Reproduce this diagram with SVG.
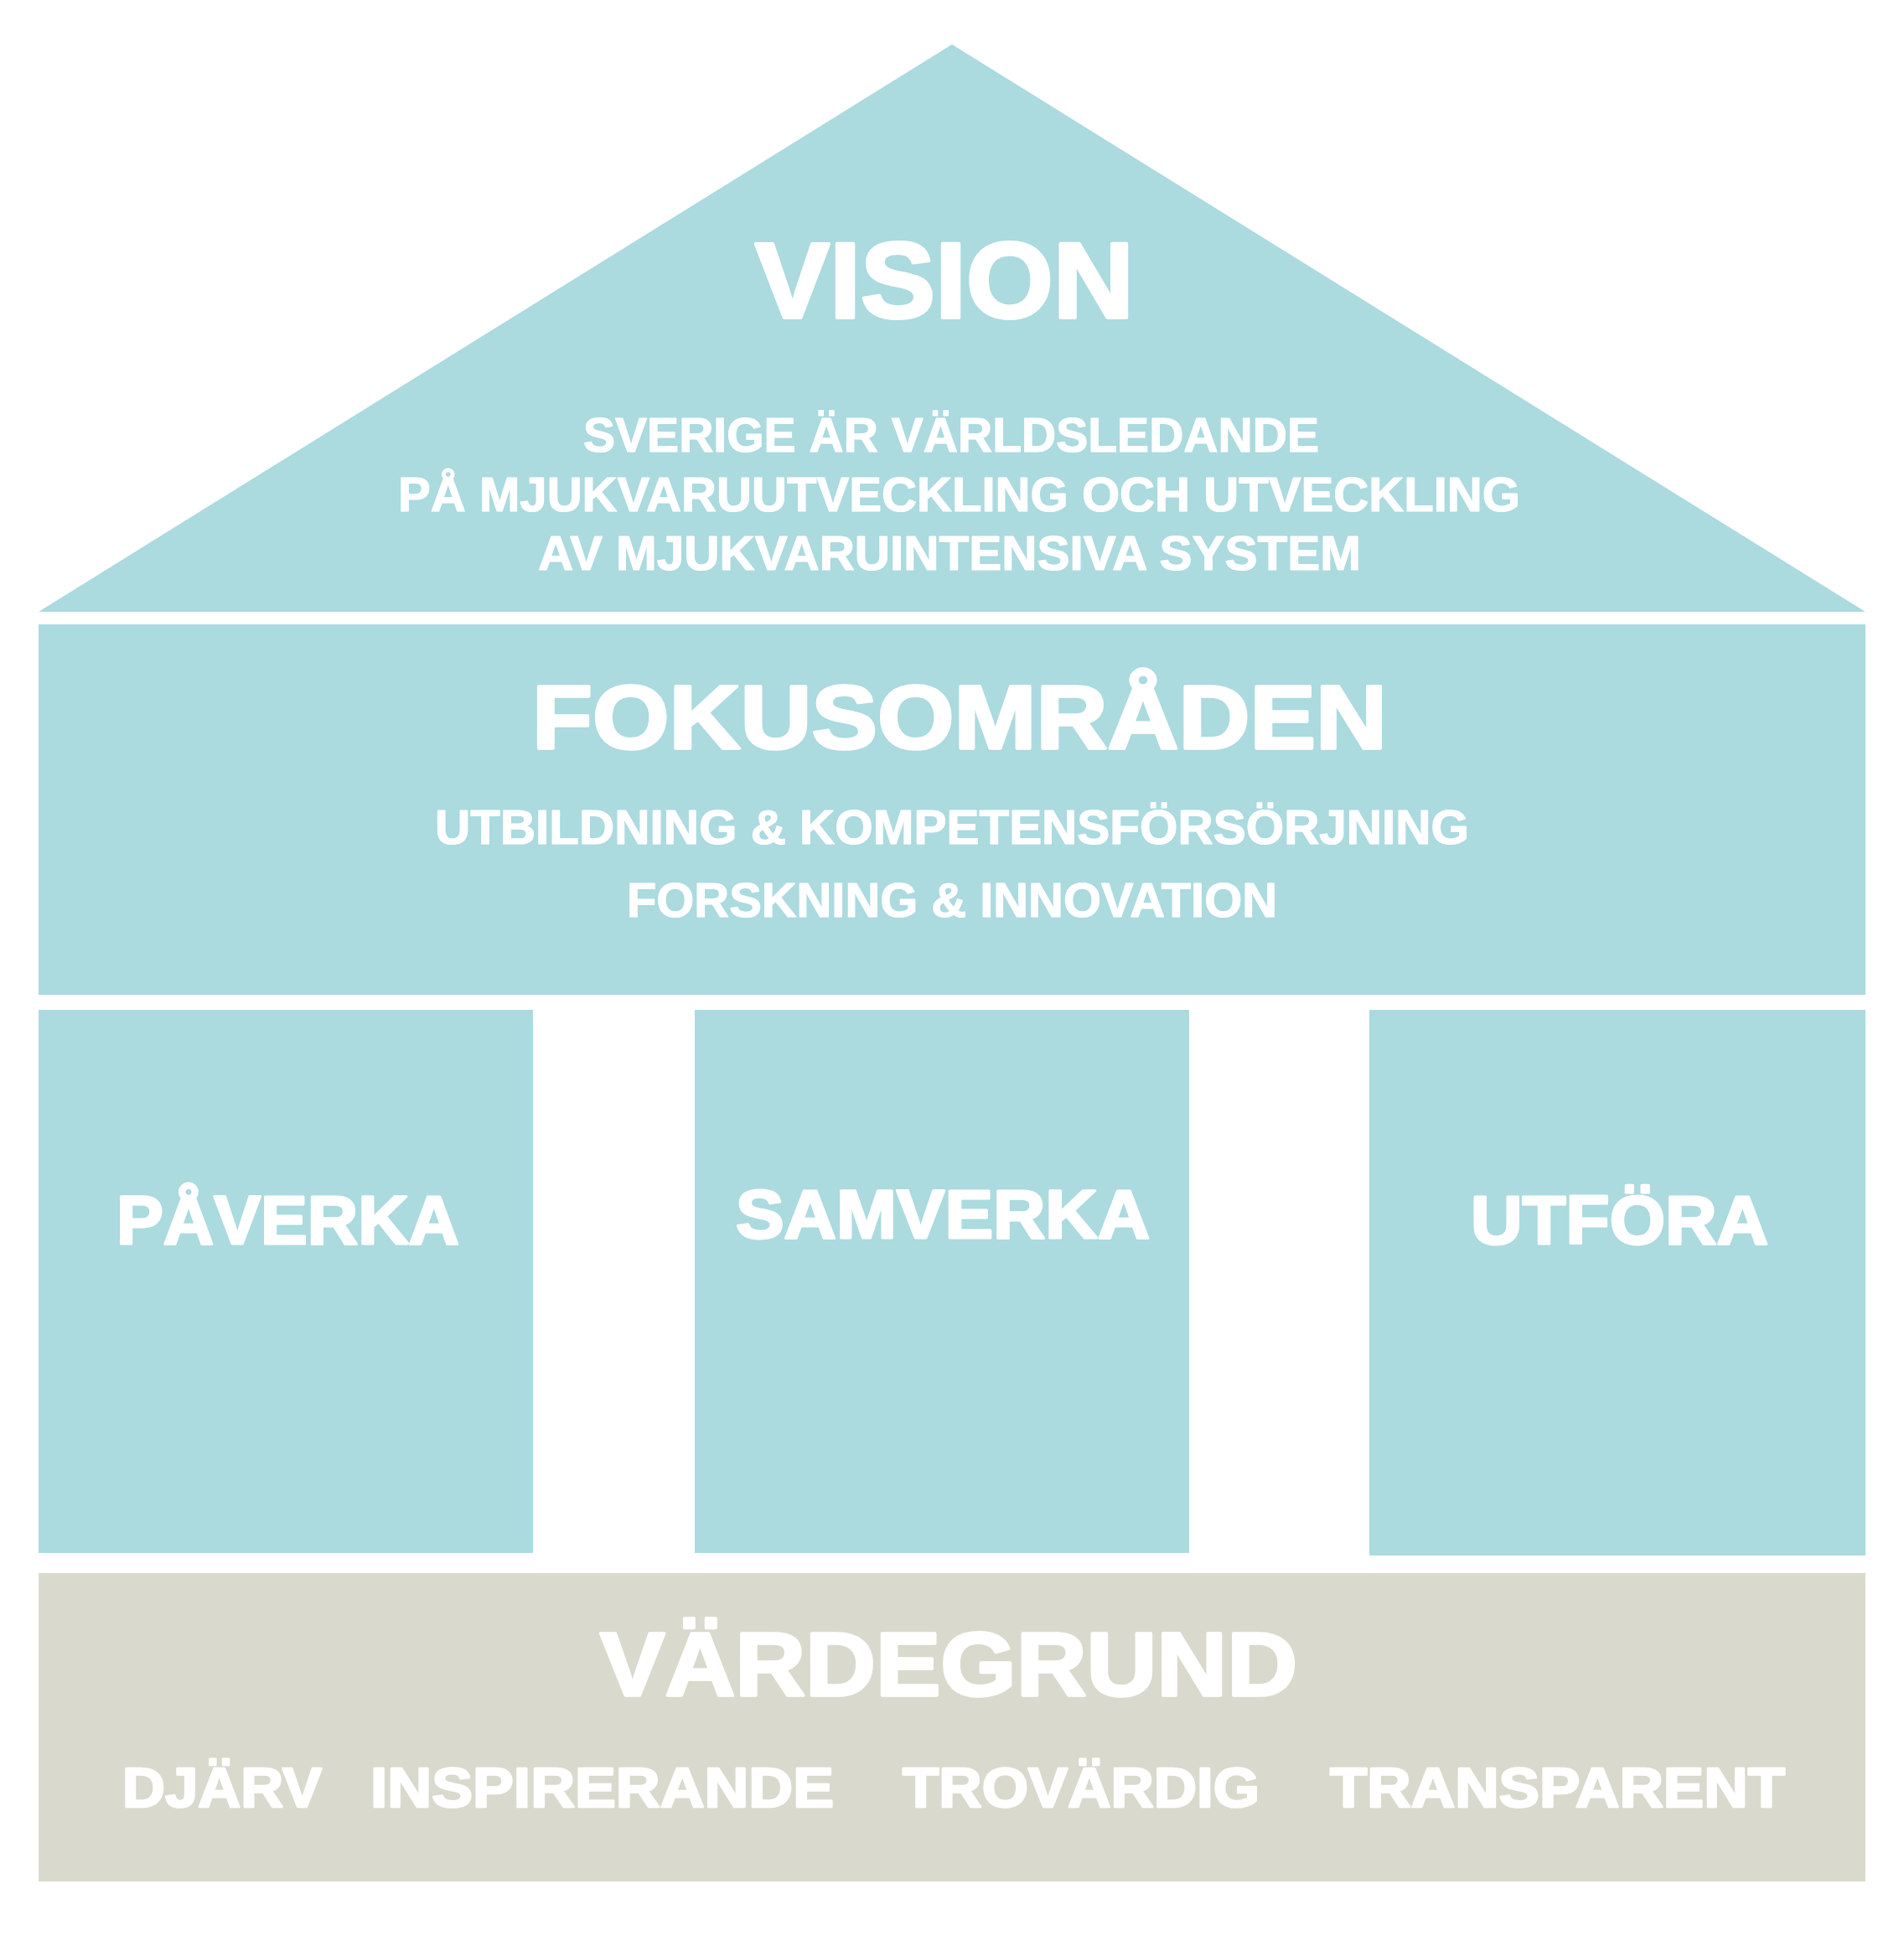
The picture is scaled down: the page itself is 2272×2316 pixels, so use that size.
<svg xmlns="http://www.w3.org/2000/svg" width="2272" height="2316" viewBox="0 0 2272 2316">
<style>
.teal{fill:#abdadf}
.grey{fill:#d9dacd}
text{fill:#ffffff;stroke:#ffffff;stroke-linejoin:round;font-family:"Liberation Sans",Arial,sans-serif;font-weight:700}
.h1{font-size:128px;stroke-width:4}
.h2{font-size:107px;stroke-width:3.5}
.h3{font-size:82px;stroke-width:3}
.s{font-size:58px;stroke-width:1.2}
.v{font-size:66px;stroke-width:2.5}
</style>
<rect width="2272" height="2316" fill="#ffffff"/>
<g id="vision">
<polygon class="teal" points="1136,53 46,730 2226,730"/>
<text class="h1" x="901" y="379" textLength="452" lengthAdjust="spacingAndGlyphs">VISION</text>
<text class="s" x="696" y="539" textLength="878" lengthAdjust="spacingAndGlyphs">SVERIGE ÄR VÄRLDSLEDANDE</text>
<text class="s" x="475" y="610" textLength="1339" lengthAdjust="spacingAndGlyphs">PÅ MJUKVARUUTVECKLING OCH UTVECKLING</text>
<text class="s" x="642" y="680" textLength="982" lengthAdjust="spacingAndGlyphs">AV MJUKVARUINTENSIVA SYSTEM</text>
</g>
<g id="fokusomraden">
<rect class="teal" x="46" y="745" width="2180" height="442"/>
<text class="h2" x="635" y="893" textLength="1020" lengthAdjust="spacingAndGlyphs">FOKUSOMRÅDEN</text>
<text class="s" x="519" y="1007" textLength="1234" lengthAdjust="spacingAndGlyphs">UTBILDNING &amp; KOMPETENSFÖRSÖRJNING</text>
<text class="s" x="748" y="1094" textLength="776" lengthAdjust="spacingAndGlyphs">FORSKNING &amp; INNOVATION</text>
</g>
<g id="paverka">
<rect class="teal" x="46" y="1205" width="590" height="648"/>
<text class="h3" x="139" y="1484" textLength="409" lengthAdjust="spacingAndGlyphs">PÅVERKA</text>
</g>
<g id="samverka">
<rect class="teal" x="829" y="1205" width="590" height="648"/>
<text class="h3" x="878" y="1477" textLength="494" lengthAdjust="spacingAndGlyphs">SAMVERKA</text>
</g>
<g id="utfora">
<rect class="teal" x="1634" y="1205" width="592" height="651"/>
<text class="h3" x="1755" y="1484" textLength="355" lengthAdjust="spacingAndGlyphs">UTFÖRA</text>
</g>
<g id="vardegrund">
<rect class="grey" x="46" y="1877" width="2180" height="368"/>
<text class="h2" x="716" y="2023" textLength="832" lengthAdjust="spacingAndGlyphs">VÄRDEGRUND</text>
<text class="v" x="146" y="2156" textLength="238" lengthAdjust="spacingAndGlyphs">DJÄRV</text>
<text class="v" x="442" y="2156" textLength="553" lengthAdjust="spacingAndGlyphs">INSPIRERANDE</text>
<text class="v" x="1077" y="2156" textLength="426" lengthAdjust="spacingAndGlyphs">TROVÄRDIG</text>
<text class="v" x="1587" y="2156" textLength="543" lengthAdjust="spacingAndGlyphs">TRANSPARENT</text>
</g>
<g id="connectors"></g>
</svg>
